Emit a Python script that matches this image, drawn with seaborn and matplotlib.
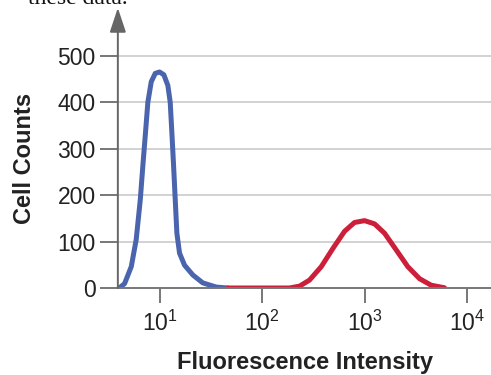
import numpy as np
import pandas as pd
import matplotlib
matplotlib.use("Agg")
import matplotlib.pyplot as plt
import seaborn as sns

# log10 of fluorescence intensity, and cell counts
blue_log = [0.607, 0.659, 0.724, 0.772, 0.812, 0.837, 0.863, 0.886, 0.919, 0.958,
            1.0, 1.042, 1.081, 1.104, 1.12, 1.137, 1.153, 1.169, 1.195, 1.244,
            1.325, 1.422, 1.553, 1.666]
blue_counts = [0, 9.5, 46, 104, 190, 263, 335, 400, 444, 462,
               465, 459, 436, 400, 335, 263, 190, 118, 75, 49,
               28, 11, 2, 0]
red_log = [1.666, 2.268, 2.366, 2.463, 2.578, 2.691, 2.805, 2.902, 3.0, 3.098,
           3.195, 3.309, 3.422, 3.537, 3.65, 3.78]
red_counts = [0, 0, 4, 17, 46, 85, 122, 141, 145, 138,
              118, 82, 46, 20, 6, 0.5]
y_ticks = [0, 100, 200, 300, 400, 500]
x_ticks = [10, 100, 1000, 10000]

blue_df = pd.DataFrame({'Intensity': 10 ** np.array(blue_log), 'Counts': blue_counts})
red_df = pd.DataFrame({'Intensity': 10 ** np.array(red_log), 'Counts': red_counts})

sns.set_style("white")
plt.rcParams['font.family'] = ['Liberation Sans', 'DejaVu Sans']
plt.rcParams['mathtext.fontset'] = 'custom'
plt.rcParams['mathtext.rm'] = 'Liberation Sans'

fig = plt.figure(figsize=(4.91, 3.75), dpi=100)
ax = fig.add_axes([0.240, 0.232, 0.760, 0.747])

sns.lineplot(x='Intensity', y='Counts', data=blue_df, ax=ax, color='#4a64ad',
             linewidth=3.6, solid_capstyle='round', solid_joinstyle='round', sort=False)
sns.lineplot(x='Intensity', y='Counts', data=red_df, ax=ax, color='#cc1f3a',
             linewidth=3.6, solid_capstyle='round', solid_joinstyle='round', sort=False)

ax.set_xscale('log')
ax.set_xlim(10 ** 0.593, 10 ** 4.234)
ax.set_ylim(0, 603)
ax.set_xticks(x_ticks)
ax.minorticks_off()
ax.set_yticks(y_ticks)

for y in y_ticks[1:]:
    ax.axhline(y, color='#cfcfcf', linewidth=1.3, zorder=0)

for s in ['top', 'right', 'left']:
    ax.spines[s].set_visible(False)
ax.spines['bottom'].set_color('#777777')
ax.spines['bottom'].set_linewidth(1.4)

ax.annotate('', xy=(0, 1), xytext=(0, 0), xycoords='axes fraction',
            arrowprops=dict(arrowstyle='-|>,head_length=1.5,head_width=0.5',
                            color='#666666', lw=1.4, shrinkA=0, shrinkB=0))

ax.tick_params(axis='x', direction='out', length=11, width=1.4, color='#777777',
               labelsize=16.5, pad=5, bottom=True)
ax.tick_params(axis='y', direction='out', length=13, width=1.4, color='#777777',
               labelsize=16.5, pad=3, left=True)
for lab in ax.get_xticklabels() + ax.get_yticklabels():
    lab.set_color('#222222')

ax.set_xlabel('Fluorescence Intensity', fontsize=17, fontweight='bold', color='#222222')
ax.set_ylabel('Cell Counts', fontsize=17, fontweight='bold', color='#222222')
ax.xaxis.set_label_coords(0.501, -0.224)
ax.yaxis.set_label_coords(-0.22, 0.464)

fig.text(28 / 491, 1 - 4 / 375, 'these data.', family=['Liberation Serif', 'DejaVu Serif'],
         fontsize=17, va='baseline', ha='left', color='#111111')

plt.savefig('out.png', dpi=100)
